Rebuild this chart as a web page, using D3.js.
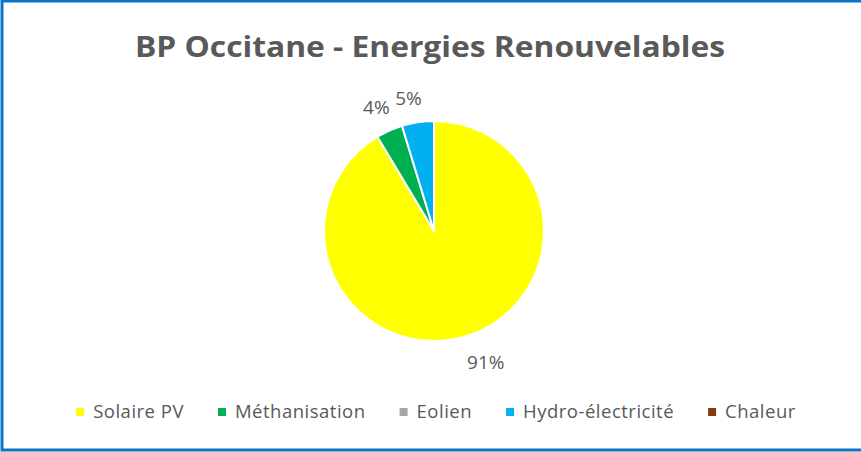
<!DOCTYPE html>
<html>
<head>
<meta charset="utf-8">
<script src="https://cdn.jsdelivr.net/npm/d3@7"></script>
<style>
  html, body { margin: 0; padding: 0; background: #fff; }
  svg { display: block; }
  text { font-family: "Open Sans", "Noto Sans", sans-serif; fill: #595959; }
</style>
</head>
<body>
<div id="chart"></div>
<script>
// data
var categories = ["Solaire PV", "Méthanisation", "Eolien", "Hydro-électricité", "Chaleur"];
var shares = [91.4, 3.9, 0, 4.7, 0];
var colors = ["#FFFF00", "#00B050", "#A5A5A5", "#00B0F0", "#843C0C"];
var title = "BP Occitane - Energies Renouvelables";

var width = 861, height = 452;
var cx = 434, cy = 231, radius = 110;

var svg = d3.select("#chart").append("svg")
  .attr("width", width)
  .attr("height", height);

svg.append("rect")
  .attr("width", width).attr("height", height)
  .attr("fill", "#fff");

// chart border (right edge falls outside the picture)
svg.append("rect")
  .attr("x", 2).attr("y", 1)
  .attr("width", width + 20).attr("height", 449)
  .attr("fill", "none")
  .attr("stroke", "#0A74C8")
  .attr("stroke-width", 3);

svg.append("text")
  .attr("x", 430)
  .attr("y", 57)
  .attr("text-anchor", "middle")
  .style("font-size", "28px")
  .style("font-weight", "bold")
  .attr("textLength", 590)
  .attr("lengthAdjust", "spacingAndGlyphs")
  .text(title);

var data = categories.map(function (c, i) {
  return {name: c, value: shares[i], color: colors[i]};
});

var pie = d3.pie()
  .sort(null)
  .value(function (d) { return d.value; });

var arc = d3.arc()
  .innerRadius(0)
  .outerRadius(radius);

var arcs = pie(data);
var total = d3.sum(shares);

var pieG = svg.append("g")
  .attr("transform", "translate(" + cx + "," + cy + ")");

pieG.selectAll("path.slice")
  .data(arcs.filter(function (d) { return d.value > 0; }))
  .enter().append("path")
    .attr("class", "slice")
    .attr("d", arc)
    .attr("fill", function (d) { return d.data.color; })
    .attr("stroke", "#fff")
    .attr("stroke-width", 2)
    .attr("stroke-linejoin", "round");

// outside-end labels
var labelR = radius + 14;
pieG.selectAll("text.lbl")
  .data(arcs.filter(function (d) { return d.value > 0; }))
  .enter().append("text")
    .attr("class", "lbl")
    .style("font-size", "19px")
    .each(function (d) {
      var a = (d.startAngle + d.endAngle) / 2;
      var s = Math.sin(a), c = -Math.cos(a);
      var px = s * labelR, py = c * labelR;
      d3.select(this)
        .attr("x", px + (s >= 0 ? 0 : 6))
        .attr("y", py)
        .attr("text-anchor", s >= 0 ? "start" : "end")
        .attr("dy", c >= 0 ? "0.95em" : "-0.2em")
        .text(Math.round(d.value / total * 100) + "%");
    });

// legend
var legendY = 412, swatch = 8, swatchGap = 9, itemGap = 34;
var legend = svg.append("g").attr("class", "legend");
var items = legend.selectAll("g.item")
  .data(data)
  .enter().append("g")
    .attr("class", "item");

items.append("rect")
  .attr("width", swatch).attr("height", swatch)
  .attr("y", legendY - swatch / 2)
  .attr("fill", function (d) { return d.color; });

items.append("text")
  .attr("x", swatch + swatchGap)
  .attr("y", legendY)
  .attr("dy", "0.35em")
  .style("font-size", "18.5px")
  .style("letter-spacing", "0.5px")
  .text(function (d) { return d.name; });

var xpos = 0, offsets = [];
items.each(function () {
  offsets.push(xpos);
  var w = d3.select(this).select("text").node().getComputedTextLength();
  xpos += swatch + swatchGap + w + itemGap;
});
var legendW = xpos - itemGap;
var legendX = 436 - legendW / 2;
items.attr("transform", function (d, i) {
  return "translate(" + (legendX + offsets[i]) + ",0)";
});
</script>
</body>
</html>
